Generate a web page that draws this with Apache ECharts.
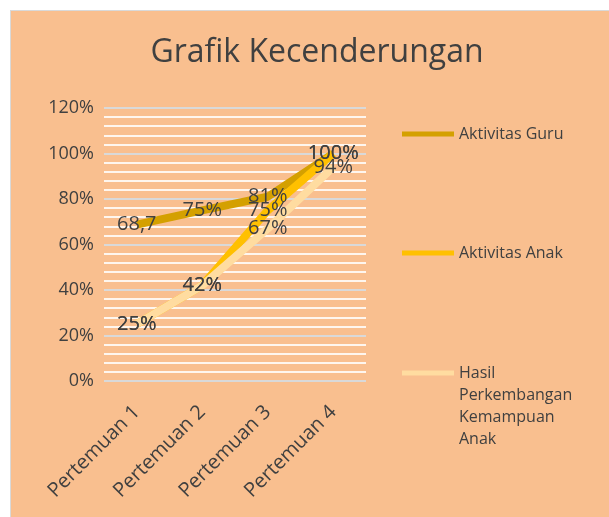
<!DOCTYPE html>
<html>
<head>
<meta charset="utf-8">
<script src="https://cdn.jsdelivr.net/npm/echarts@6/dist/echarts.min.js"></script>
<style>
  html, body { margin: 0; padding: 0; background: #ffffff; overflow: hidden; }
  #chart {
    position: absolute; left: 10px; top: 10px;
    width: 610px; height: 520px;
    border-left: 1px solid #d9d9d9; border-top: 1px solid #d9d9d9;
    background: #f9bf8f;
  }
</style>
</head>
<body>
<div id="chart"></div>
<script>
// data
var categories = ['Pertemuan 1', 'Pertemuan 2', 'Pertemuan 3', 'Pertemuan 4'];
var guru = [68.7, 75, 81, 100];
var anak = [25, 42, 75, 100];
var hasil = [25, 42, 67, 94];
var guruLabels = ['68,7', '75%', '81%', '100%'];
var seriesNames = ['Aktivitas Guru', 'Aktivitas Anak', 'Hasil Perkembangan Kemampuan Anak'];

var textColor = '#404040';
var font = '"Open Sans", sans-serif';

var myChart = echarts.init(document.getElementById('chart'));

var lbl = function (fmt) {
    return {
        show: true,
        position: 'inside',
        color: textColor,
        fontFamily: font,
        fontSize: 20,
        formatter: fmt
    };
};

var legendItem = function (name, top, color) {
    return {
        data: [{ name: name, icon: 'rect', itemStyle: { color: color } }],
        orient: 'vertical',
        left: 386,
        top: top,
        itemWidth: 52,
        itemHeight: 5,
        textStyle: { color: textColor, fontFamily: font, fontSize: 16, lineHeight: 22 },
        formatter: function (n) {
            // long name wraps; blank lines keep the first line level with the icon
            return n === seriesNames[2] ? '\n\n\nHasil\nPerkembangan\nKemampuan\nAnak' : n;
        }
    };
};

var option = {
    animation: false,
    title: {
        text: 'Grafik Kecenderungan',
        left: 301,
        top: 21,
        textAlign: 'center',
        textStyle: { color: textColor, fontFamily: font, fontSize: 32, fontWeight: 'normal' }
    },
    legend: [
        legendItem(seriesNames[0], 107, '#d4a000'),
        legendItem(seriesNames[1], 226, '#ffc000'),
        legendItem(seriesNames[2], 280, '#ffdca0')
    ],
    grid: { left: 93, top: 97, width: 262, height: 273 },
    xAxis: {
        type: 'category',
        data: categories,
        boundaryGap: true,
        axisLine: { show: false },
        axisTick: { show: false },
        axisLabel: {
            rotate: 45,
            margin: 28,
            color: textColor,
            fontFamily: font,
            fontSize: 20
        }
    },
    yAxis: {
        type: 'value',
        min: 0,
        max: 120,
        interval: 20,
        axisLine: { show: false },
        axisTick: { show: false },
        axisLabel: {
            formatter: '{value}%',
            margin: 10,
            color: textColor,
            fontFamily: font,
            fontSize: 18
        },
        splitLine: { lineStyle: { color: '#d9d9d9', width: 2 } },
        minorTick: { show: false, splitNumber: 5 },
        minorSplitLine: { show: true, lineStyle: { color: '#ffffff', width: 2, opacity: 0.85 } }
    },
    series: [
        {
            name: seriesNames[0],
            type: 'line',
            data: guru,
            symbol: 'circle',
            symbolSize: 0,
            lineStyle: { color: '#d4a000', width: 8 },
            itemStyle: { color: '#d4a000' },
            label: lbl(function (p) { return guruLabels[p.dataIndex]; })
        },
        {
            name: seriesNames[1],
            type: 'line',
            data: anak,
            symbol: 'circle',
            symbolSize: 0,
            lineStyle: { color: '#ffc000', width: 8 },
            itemStyle: { color: '#ffc000' },
            label: lbl('{c}%')
        },
        {
            name: seriesNames[2],
            type: 'line',
            data: hasil,
            symbol: 'circle',
            symbolSize: 0,
            lineStyle: { color: '#ffdca0', width: 8 },
            itemStyle: { color: '#ffdca0' },
            label: lbl('{c}%')
        }
    ]
};

myChart.setOption(option);
</script>
</body>
</html>
